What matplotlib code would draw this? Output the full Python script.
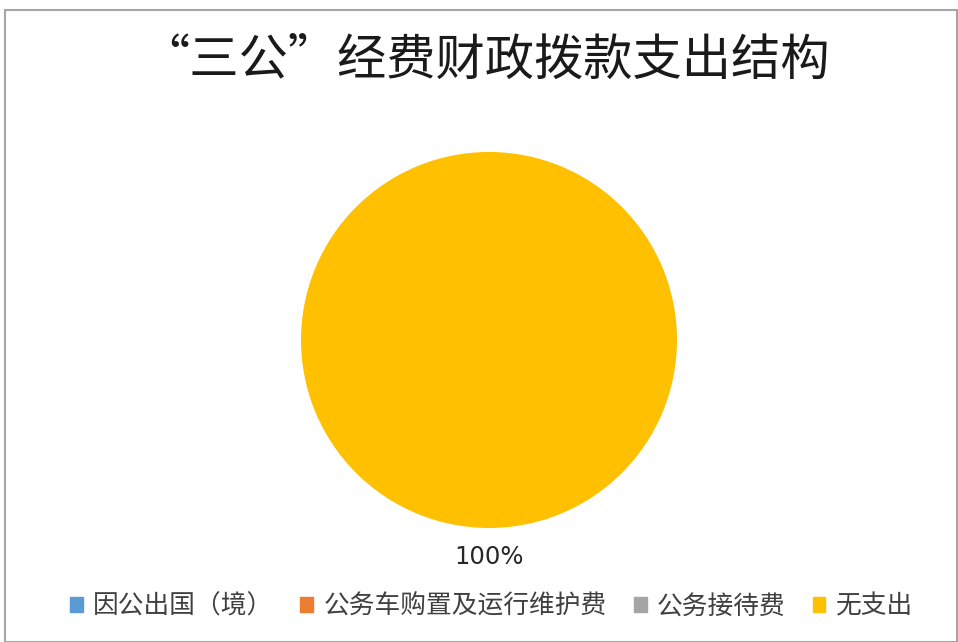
import matplotlib as mpl
import matplotlib.pyplot as plt
from matplotlib.patches import Rectangle

plt.rcParams['font.family'] = ['Noto Sans CJK SC', 'DejaVu Sans']

title = '“三公”经费财政拨款支出结构'
categories = ['因公出国（境）', '公务车购置及运行维护费', '公务接待费', '无支出']
values = [0, 0, 0, 100]
colors = ['#5B9BD5', '#ED7D31', '#A5A5A5', '#FFC000']

fig = plt.figure(figsize=(9.58, 6.42), dpi=100)

# chart area border
fig.patches.append(Rectangle((5 / 958, 0), 952 / 958, 632 / 642,
                             transform=fig.transFigure, fill=False,
                             edgecolor='#A6A6A6', linewidth=1.5))

ax = fig.add_axes([0.3142, 0.1776, 0.3925, 0.5857])


def fmt(p):
    return f'{p:.0f}%' if p > 0 else ''


wedges, texts, autotexts = ax.pie(
    values, colors=colors, startangle=90, counterclock=False,
    autopct=fmt, pctdistance=1.155,
    wedgeprops=dict(linewidth=0),
    textprops=dict(fontsize=17.5, color='#262626', family='DejaVu Sans'))
ax.set_xlim(-1, 1)
ax.set_ylim(-1, 1)
ax.set_aspect('equal')

fig.text(0.506, 0.905, title, ha='center', va='center', fontsize=35.5,
         color='#1a1a1a')

handles = [Rectangle((0, 0), 1, 1, color=c) for c in colors]
fig.legend(handles, categories, loc='center', bbox_to_anchor=(0.513, 0.055),
           ncol=4, frameon=False, fontsize=18.5, handlelength=0.5,
           handleheight=0.5, handletextpad=0.4, columnspacing=1.05,
           labelcolor='#404040')

fig.savefig('out.png', dpi=100)
